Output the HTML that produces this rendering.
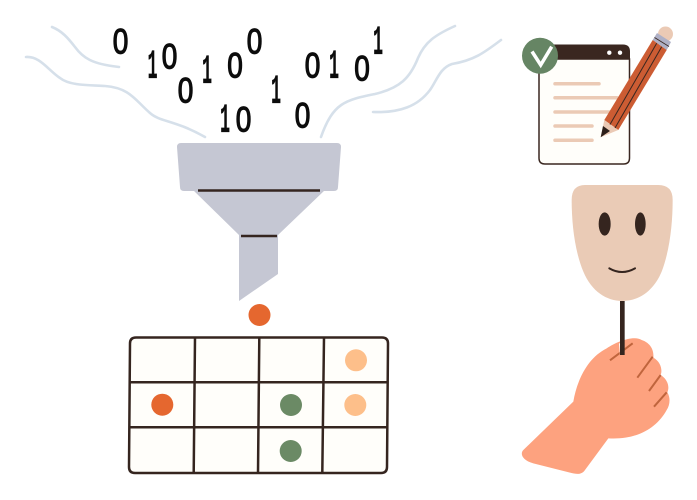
<!DOCTYPE html>
<html><head><meta charset="utf-8"><style>html,body{margin:0;padding:0;background:#fff;width:697px;height:500px;overflow:hidden}svg{display:block}.z{font-family:"Liberation Sans",sans-serif;font-size:35px;fill:#0c0c0c;stroke:#0c0c0c;stroke-width:1.2;text-anchor:middle}.o{font-family:"Liberation Mono",monospace;font-weight:bold;font-size:42px;fill:#0c0c0c;stroke:#0c0c0c;stroke-width:.3;text-anchor:middle}</style></head><body>
<svg width="697" height="500" viewBox="0 0 697 500" xmlns="http://www.w3.org/2000/svg">
<rect width="697" height="500" fill="#fff"/>
<g fill="none" stroke="#d6e0ea" stroke-width="2.600" stroke-linecap="round">
<path d="M52,27 C62,31 68,38 75,47 C83,58 92,64 119,67"/>
<path d="M26,57 C40,56 48,70 60,78 C70,86 90,85 105,86 C130,88 135,100 150,113 C160,122 175,120 205,137"/>
<path d="M455,26 C435,35 425,42 418,58 C410,78 400,88 375,94 C345,100 333,103 321,137"/>
<path d="M501,40 C485,52 475,60 452,64 C440,68 437,80 430,90 C418,106 400,113 373,112"/>
</g>
<g class="digits">
<text class="z" transform="translate(120.500,53.700) scale(.8,1)">0</text>
<text class="z" transform="translate(169.500,68.700) scale(.8,1)">0</text>
<text class="z" transform="translate(185.500,102.700) scale(.8,1)">0</text>
<text class="z" transform="translate(235,77.700) scale(.8,1)">0</text>
<text class="z" transform="translate(254.500,53.700) scale(.8,1)">0</text>
<text class="z" transform="translate(243.500,131.700) scale(.8,1)">0</text>
<text class="z" transform="translate(302.500,127.700) scale(.8,1)">0</text>
<text class="z" transform="translate(312.500,77.700) scale(.8,1)">0</text>
<text class="z" transform="translate(362,80.700) scale(.8,1)">0</text>
<text class="o" transform="translate(152.500,78) scale(.4,1)">1</text>
<text class="o" transform="translate(207,83) scale(.4,1)">1</text>
<text class="o" transform="translate(225,132) scale(.4,1)">1</text>
<text class="o" transform="translate(276,103) scale(.4,1)">1</text>
<text class="o" transform="translate(334,78) scale(.4,1)">1</text>
<text class="o" transform="translate(378,54) scale(.4,1)">1</text>
</g>
<path d="M181,143 H337 Q341,143 341,147 L338,187 Q338,191 334,191 H184 Q180,191 180,187 L177,147 Q177,143 181,143Z" fill="#c5c7d3"/>
<path d="M193,190 H325 L278,235 V274 L239,301 V235Z" fill="#c5c7d3"/>
<path d="M198,190.500H320M241,236H277" stroke="#35251f" stroke-width="2.500" fill="none"/>
<circle cx="259.500" cy="315" r="11" fill="#e5672f"/>
<path d="M136,337.500H382Q388,337.500 388,343.500L387,467Q387,473 381,473H135Q129,473 129,467L130,343.500Q130,337.500 136,337.500Z" fill="#fffefa" stroke="#35251f" stroke-width="2.500"/>
<path d="M195,337.500L193.700,473M259.300,337.500L258,473M324,337.500L322.300,473M130,382.300H388M129.500,427.300H387.500" stroke="#35251f" stroke-width="2.500" fill="none"/>
<circle cx="356" cy="360.300" r="11" fill="#fdbf8a"/><circle cx="355.300" cy="405" r="11" fill="#fdbf8a"/>
<circle cx="162.300" cy="404.700" r="11" fill="#e5672f"/>
<circle cx="291" cy="405" r="11" fill="#6b8a65"/><circle cx="290.700" cy="451" r="11" fill="#6b8a65"/>
<path d="M539,59H629.500V158Q629.500,164 623.500,164H545Q539,164 539,158Z" fill="#fffefa" stroke="#3a2720" stroke-width="1.500"/>
<path d="M545,44.500H623Q630,44.500 630,51.500V59H538.500V51Q538.500,44.500 545,44.500Z" fill="#3a2720"/>
<circle cx="609.300" cy="52.700" r="2.200" fill="#fff"/><circle cx="620" cy="52.700" r="2.200" fill="#fff"/>
<path d="M555,83.700H599M555,97.700H617M555,112H610M555,126H592M555,140.300H592" stroke="#ebcab5" stroke-width="3.500" stroke-linecap="round" fill="none"/>
<circle cx="540" cy="55.700" r="18" fill="#668564"/>
<path d="M532,51.500L540.700,65L551.700,46.700" fill="none" stroke="#fff" stroke-width="3.500"/>
<circle cx="665.500" cy="34" r="7.500" fill="#ebcab5"/>
<path d="M652.700,40L657,33L671,42L666.700,50Z" fill="#aeb0c6"/>
<path d="M654.500,37.500L669,46.500" stroke="#3a2720" stroke-width=".8"/>
<path d="M604.300,120L652.700,40L666.700,50L618.300,130Z" fill="#cc5c33"/>
<path d="M600.700,137.300L604.300,120L618.300,130Z" fill="#ebcab5"/>
<path d="M600.700,137.300L603,126L610,131Z" fill="#2d201b"/>
<path d="M610,124.500L656.700,43.300M615,128L661.700,46.700" stroke="#3a2720" stroke-width="1" fill="none"/>
<g transform="translate(510,175) scale(.33333)">
<path d="M225,30H445Q488,30 488,75C488,150 478,230 455,290C430,350 385,378 337,378C290,378 245,350 220,290C195,230 185,150 185,75Q185,30 225,30Z" fill="#eacbb6"/>
<ellipse cx="284" cy="147" rx="18" ry="35" fill="#35251f"/><ellipse cx="391" cy="147" rx="16" ry="35" fill="#35251f"/>
<path d="M298,280Q336,302 375,280" fill="none" stroke="#35251f" stroke-width="6" stroke-linecap="round"/>
<path d="M40,825L190,680C200,620 230,550 290,520C320,500 370,480 395,495C425,505 432,530 430,548C452,560 458,585 452,600C472,612 480,635 472,652C482,668 480,690 470,705C440,760 380,795 295,790L225,885C215,900 200,898 180,893L70,865C35,855 30,835 40,825Z" fill="#fda27f"/>
<path d="M300,556L368,505M382,608L428,545M417,648L452,600M432,695L470,652" stroke="#c0653d" stroke-width="6" fill="none"/>
<path d="M327,505L330,540H337V505Z" fill="#fff"/>
<path d="M337,378V540" stroke="#35251f" stroke-width="14" fill="none"/>
</g>
</svg>
</body></html>
